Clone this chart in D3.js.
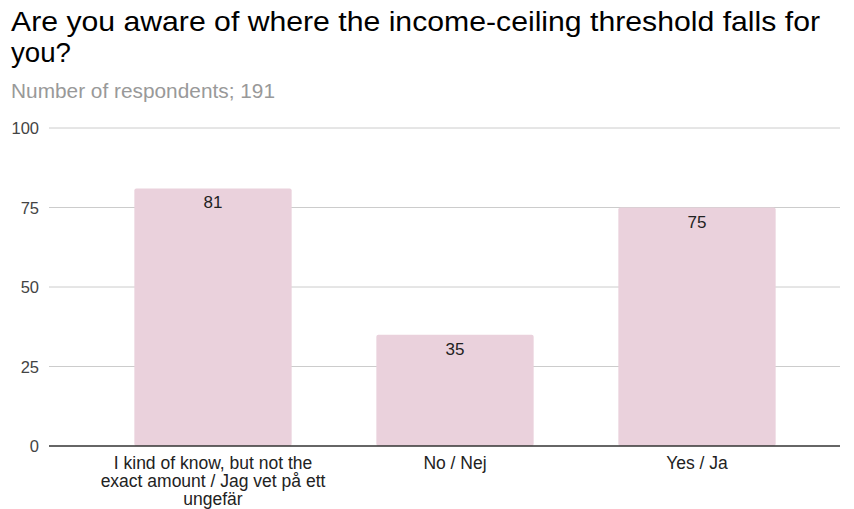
<!DOCTYPE html>
<html>
<head>
<meta charset="utf-8">
<script src="https://cdn.jsdelivr.net/npm/d3@7"></script>
<style>
body { margin: 0; background: #fff; }
text { font-family: "Liberation Sans", Arial, sans-serif; }
</style>
</head>
<body>
<script>
var categories = [
    ['I kind of know, but not the', 'exact amount / Jag vet på ett', 'ungefär'],
    ['No / Nej'],
    ['Yes / Ja']
];
var values = [81, 35, 75];
var yTicks = [0, 25, 50, 75, 100];

var svg = d3.select('body').append('svg')
    .attr('width', 854)
    .attr('height', 509);

svg.append('rect').attr('width', 854).attr('height', 509).attr('fill', '#fff');

// title (glyphs a bit wider than the local font, so stretch to fit)
svg.append('text').attr('x', 11).attr('y', 31)
    .attr('font-size', 27.5).attr('fill', '#000')
    .attr('textLength', 809).attr('lengthAdjust', 'spacingAndGlyphs')
    .text('Are you aware of where the income-ceiling threshold falls for');
svg.append('text').attr('x', 11).attr('y', 62)
    .attr('font-size', 27.5).attr('fill', '#000')
    .attr('textLength', 60).attr('lengthAdjust', 'spacingAndGlyphs')
    .text('you?');
svg.append('text').attr('x', 11).attr('y', 98)
    .attr('font-size', 20).attr('fill', '#999')
    .attr('textLength', 264).attr('lengthAdjust', 'spacingAndGlyphs')
    .text('Number of respondents; 191');

var y = d3.scaleLinear().domain([0, 100]).range([446, 128]);
var x = d3.scaleBand().domain(d3.range(values.length))
    .range([92, 818]).paddingInner(0.35).paddingOuter(0.175);

// gridlines
svg.selectAll('.grid').data(yTicks.filter(function(d) { return d > 0; }))
    .enter().append('line')
    .attr('x1', 49).attr('x2', 840)
    .attr('y1', function(d) { return y(d); })
    .attr('y2', function(d) { return y(d); })
    .attr('stroke', '#ccc');

svg.selectAll('.ylab').data(yTicks)
    .enter().append('text')
    .attr('x', 39)
    .attr('y', function(d) { return y(d) + 6; })
    .attr('text-anchor', 'end')
    .attr('font-size', 16.5).attr('fill', '#444')
    .text(function(d) { return d; });

// bars
svg.selectAll('.bar').data(values)
    .enter().append('rect')
    .attr('x', function(d, i) { return x(i); })
    .attr('y', function(d) { return y(d); })
    .attr('width', x.bandwidth())
    .attr('height', function(d) { return y(0) - y(d); })
    .attr('rx', 2)
    .attr('fill', '#ead1dc');

svg.selectAll('.val').data(values)
    .enter().append('text')
    .attr('x', function(d, i) { return x(i) + x.bandwidth() / 2; })
    .attr('y', function(d) { return y(d) + 20; })
    .attr('text-anchor', 'middle')
    .attr('font-size', 17).attr('fill', '#222')
    .text(function(d) { return d; });

// baseline
svg.append('line')
    .attr('x1', 49).attr('x2', 840)
    .attr('y1', y(0)).attr('y2', y(0))
    .attr('stroke', '#333').attr('stroke-width', 1.3);

// x labels
categories.forEach(function(lines, i) {
    var t = svg.append('text')
        .attr('x', x(i) + x.bandwidth() / 2)
        .attr('y', 469)
        .attr('text-anchor', 'middle')
        .attr('font-size', 17.5).attr('fill', '#222');
    lines.forEach(function(l, j) {
        t.append('tspan')
            .attr('x', x(i) + x.bandwidth() / 2)
            .attr('dy', j === 0 ? 0 : 18)
            .text(l);
    });
});
</script>
</body>
</html>
